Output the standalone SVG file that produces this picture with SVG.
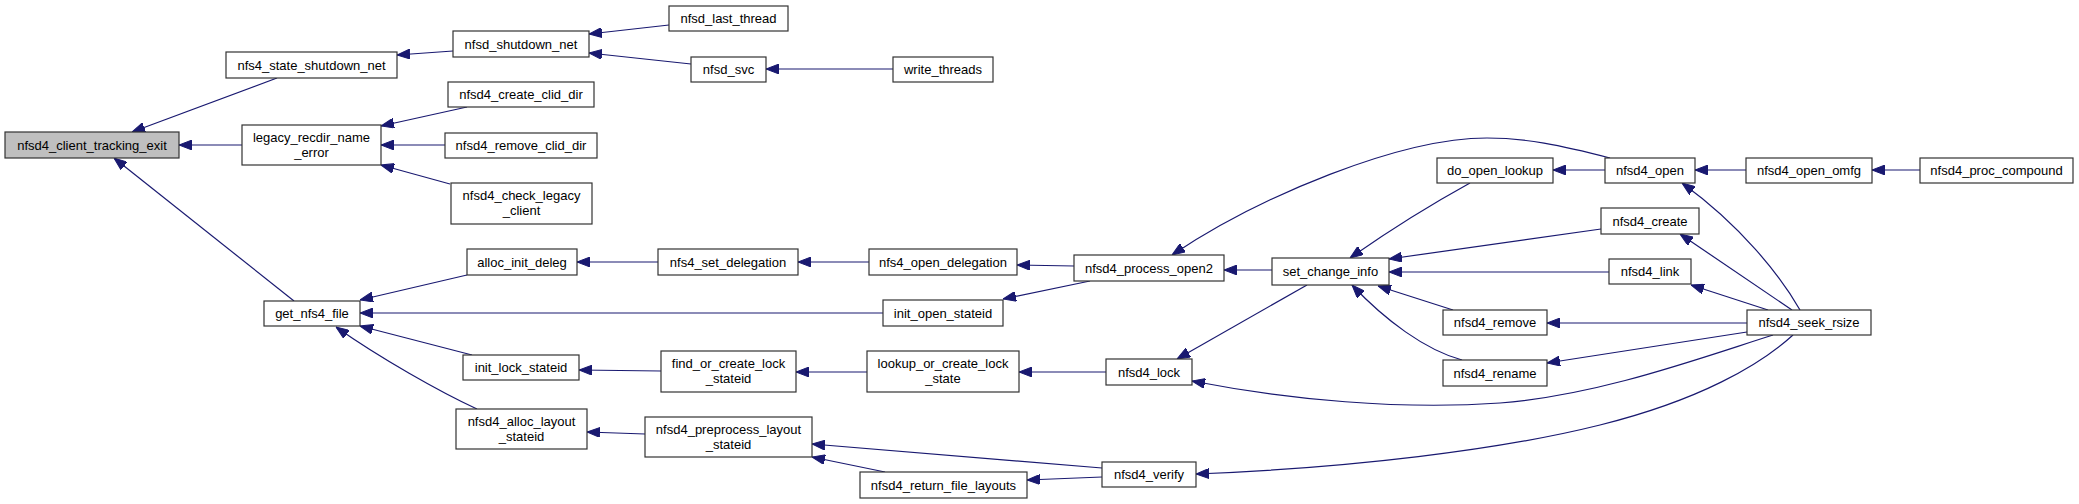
<svg xmlns="http://www.w3.org/2000/svg" width="2079" height="504" viewBox="0 0 2079 504">
<style>
.n rect{fill:#fff;stroke:#333;stroke-width:1.2}
.n.root rect{fill:#bfbfbf}
.n text{font-family:"Liberation Sans",Arial,sans-serif;font-size:13px;fill:#000;text-anchor:middle}
.e path{fill:none;stroke:#191970;stroke-width:1.2;marker-end:url(#ah)}
</style>
<defs>
<marker id="ah" viewBox="0 0 13 10" refX="13" refY="5" markerWidth="13" markerHeight="10" markerUnits="userSpaceOnUse" orient="auto">
<path d="M0,0 L13,5 L0,10 z" fill="#191970" stroke="#191970" stroke-width="1"/>
</marker>
</defs>
<rect width="2079" height="504" fill="#fff"/>
<g id="edges" class="e">
<path d="M277,78 L132,132"/>
<path d="M242,145 L179,145"/>
<path d="M294,301 L114,158"/>
<path d="M453,51 L397,55"/>
<path d="M467,107 L381,126"/>
<path d="M445,145 L381,145"/>
<path d="M450,184 L381,165"/>
<path d="M467,275 L360,300"/>
<path d="M883,313 L360,313"/>
<path d="M472,355 L360,326"/>
<path d="M477,409 C440,392 380,358 336,327"/>
<path d="M669,25 L589,34"/>
<path d="M691,64 L589,53"/>
<path d="M893,69 L766,69"/>
<path d="M658,262 L577,262"/>
<path d="M869,262 L798,262"/>
<path d="M661,371 L579,370"/>
<path d="M867,372 L796,372"/>
<path d="M645,434 L587,432"/>
<path d="M1074,266 L1017,265"/>
<path d="M1090,281 L1003,299"/>
<path d="M1272,270 L1224,270"/>
<path d="M1307,285 L1177,359"/>
<path d="M1106,372 L1019,372"/>
<path d="M1102,468 L812,444"/>
<path d="M885,472 L812,457"/>
<path d="M1102,477 L1027,480"/>
<path d="M1610,158 C1560,145 1525,138 1487,138 C1400,138 1260,196 1172,255"/>
<path d="M1470,183 C1430,205 1390,230 1350,258"/>
<path d="M1605,170 L1553,170"/>
<path d="M1746,170 L1695,170"/>
<path d="M1920,170 L1872,170"/>
<path d="M1601,229 L1389,259"/>
<path d="M1609,272 L1389,272"/>
<path d="M1453,310 L1378,286"/>
<path d="M1462,360 C1425,350 1385,320 1352,285"/>
<path d="M1800,310 C1780,275 1740,225 1682,183"/>
<path d="M1792,310 L1680,234"/>
<path d="M1768,310 L1691,285"/>
<path d="M1747,323 L1547,323"/>
<path d="M1747,332 L1547,363"/>
<path d="M1773,335 C1700,358 1600,395 1500,403 C1400,410 1290,400 1192,381"/>
<path d="M1793,335 C1760,365 1700,400 1600,425 C1500,450 1350,468 1196,474"/>
</g>
<g id="nfsd4_client_tracking_exit" class="n root"><rect x="5" y="132" width="174" height="26"/><text x="92" y="149.5">nfsd4_client_tracking_exit</text></g>
<g id="nfs4_state_shutdown_net" class="n"><rect x="226" y="52" width="171" height="26"/><text x="311.5" y="69.5">nfs4_state_shutdown_net</text></g>
<g id="legacy_recdir_name_error" class="n"><rect x="242" y="125" width="139" height="40"/><text x="311.5" y="141.5">legacy_recdir_name</text><text x="311.5" y="156.5">_error</text></g>
<g id="get_nfs4_file" class="n"><rect x="264" y="301" width="96" height="25"/><text x="312" y="318">get_nfs4_file</text></g>
<g id="nfsd_shutdown_net" class="n"><rect x="453" y="31" width="136" height="26"/><text x="521" y="48.5">nfsd_shutdown_net</text></g>
<g id="nfsd4_create_clid_dir" class="n"><rect x="448" y="82" width="146" height="25"/><text x="521" y="99">nfsd4_create_clid_dir</text></g>
<g id="nfsd4_remove_clid_dir" class="n"><rect x="445" y="133" width="152" height="25"/><text x="521" y="150">nfsd4_remove_clid_dir</text></g>
<g id="nfsd4_check_legacy_client" class="n"><rect x="451" y="183" width="141" height="41"/><text x="521.5" y="200">nfsd4_check_legacy</text><text x="521.5" y="215">_client</text></g>
<g id="alloc_init_deleg" class="n"><rect x="467" y="249" width="110" height="26"/><text x="522" y="266.5">alloc_init_deleg</text></g>
<g id="init_lock_stateid" class="n"><rect x="463" y="355" width="116" height="25"/><text x="521" y="372">init_lock_stateid</text></g>
<g id="nfsd4_alloc_layout_stateid" class="n"><rect x="456" y="409" width="131" height="40"/><text x="521.5" y="425.5">nfsd4_alloc_layout</text><text x="521.5" y="440.5">_stateid</text></g>
<g id="nfsd_last_thread" class="n"><rect x="669" y="6" width="119" height="25"/><text x="728.5" y="23">nfsd_last_thread</text></g>
<g id="nfsd_svc" class="n"><rect x="691" y="57" width="75" height="25"/><text x="728.5" y="74">nfsd_svc</text></g>
<g id="write_threads" class="n"><rect x="893" y="57" width="100" height="25"/><text x="943" y="74">write_threads</text></g>
<g id="nfs4_set_delegation" class="n"><rect x="658" y="249" width="140" height="26"/><text x="728" y="266.5">nfs4_set_delegation</text></g>
<g id="nfs4_open_delegation" class="n"><rect x="869" y="249" width="148" height="26"/><text x="943" y="266.5">nfs4_open_delegation</text></g>
<g id="init_open_stateid" class="n"><rect x="883" y="300" width="120" height="26"/><text x="943" y="317.5">init_open_stateid</text></g>
<g id="find_or_create_lock_stateid" class="n"><rect x="661" y="351" width="135" height="41"/><text x="728.5" y="367.5">find_or_create_lock</text><text x="728.5" y="382.5">_stateid</text></g>
<g id="lookup_or_create_lock_state" class="n"><rect x="867" y="351" width="152" height="41"/><text x="943" y="367.5">lookup_or_create_lock</text><text x="943" y="382.5">_state</text></g>
<g id="nfsd4_preprocess_layout_stateid" class="n"><rect x="645" y="417" width="167" height="40"/><text x="728.5" y="433.5">nfsd4_preprocess_layout</text><text x="728.5" y="448.5">_stateid</text></g>
<g id="nfsd4_return_file_layouts" class="n"><rect x="860" y="472" width="167" height="26"/><text x="943.5" y="489.5">nfsd4_return_file_layouts</text></g>
<g id="nfsd4_process_open2" class="n"><rect x="1074" y="255" width="150" height="26"/><text x="1149" y="272.5">nfsd4_process_open2</text></g>
<g id="set_change_info" class="n"><rect x="1272" y="258" width="117" height="27"/><text x="1330.5" y="276">set_change_info</text></g>
<g id="nfsd4_lock" class="n"><rect x="1106" y="359" width="86" height="26"/><text x="1149" y="376.5">nfsd4_lock</text></g>
<g id="nfsd4_verify" class="n"><rect x="1102" y="462" width="94" height="25"/><text x="1149" y="479">nfsd4_verify</text></g>
<g id="do_open_lookup" class="n"><rect x="1437" y="158" width="116" height="25"/><text x="1495" y="175">do_open_lookup</text></g>
<g id="nfsd4_open" class="n"><rect x="1605" y="158" width="90" height="25"/><text x="1650" y="175">nfsd4_open</text></g>
<g id="nfsd4_create" class="n"><rect x="1601" y="208" width="98" height="26"/><text x="1650" y="225.5">nfsd4_create</text></g>
<g id="nfsd4_link" class="n"><rect x="1609" y="259" width="82" height="25"/><text x="1650" y="276">nfsd4_link</text></g>
<g id="nfsd4_remove" class="n"><rect x="1443" y="310" width="104" height="25"/><text x="1495" y="327">nfsd4_remove</text></g>
<g id="nfsd4_rename" class="n"><rect x="1443" y="360" width="104" height="26"/><text x="1495" y="377.5">nfsd4_rename</text></g>
<g id="nfsd4_seek_rsize" class="n"><rect x="1747" y="310" width="124" height="25"/><text x="1809" y="327">nfsd4_seek_rsize</text></g>
<g id="nfsd4_open_omfg" class="n"><rect x="1746" y="158" width="126" height="25"/><text x="1809" y="175">nfsd4_open_omfg</text></g>
<g id="nfsd4_proc_compound" class="n"><rect x="1920" y="158" width="153" height="25"/><text x="1996.5" y="175">nfsd4_proc_compound</text></g>
</svg>
